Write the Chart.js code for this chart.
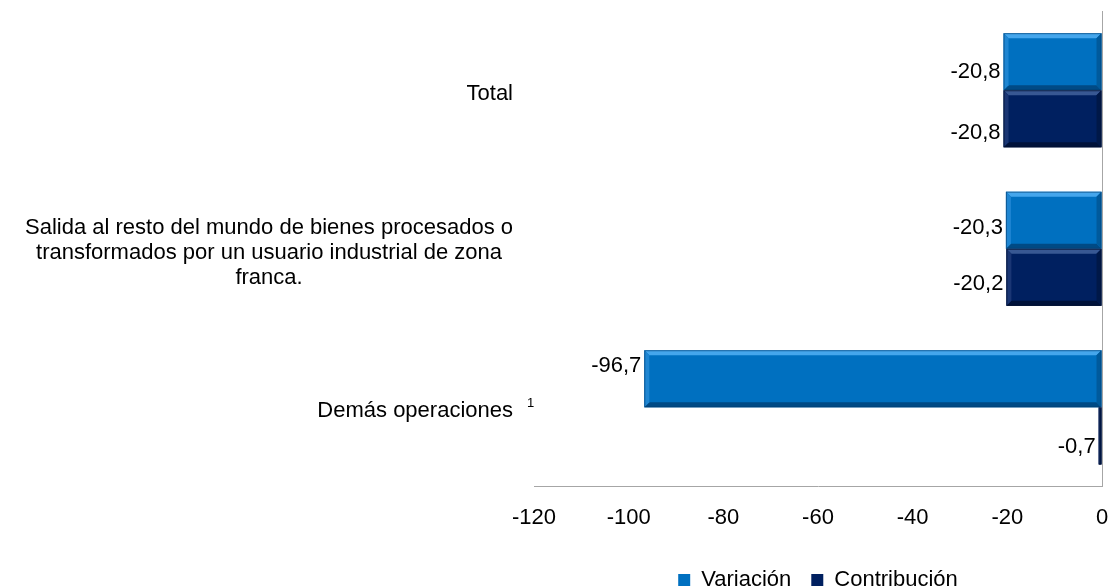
<!DOCTYPE html>
<html lang="es">
<head>
<meta charset="utf-8">
<title>Variación y contribución</title>
<script src="https://cdn.jsdelivr.net/npm/chart.js@4.4.1/dist/chart.umd.min.js"></script>
<style>
  html, body { margin: 0; padding: 0; background: #fff; overflow: hidden; }
  #wrap { width: 1112px; height: 586px; position: relative; }
</style>
</head>
<body>
<div id="wrap"><canvas id="grafico"></canvas></div>
<script>
// Categorías (de arriba hacia abajo), cada una partida en líneas
const categorias = [
    ['Total'],
    ['Salida al resto del mundo de bienes procesados o', 'transformados por un usuario industrial de zona', 'franca.'],
    ['Demás operaciones']
];
const notas = ['', '', '1'];

// Series (%)
const variacion = [-20.8, -20.3, -96.7];
const contribucion = [-20.8, -20.2, -0.7];

// Eje X
const ejeMin = -120;
const ejeMax = 0;
const ejePaso = 20;

const FUENTE = "'Liberation Sans', Arial, sans-serif";
const TAM = 22;

// Ajuste vertical de las etiquetas de datos (como quedaron en el original)
const ajusteEtiquetas = [[10, 14], [8, 7], [-13, 11]];

function formatoNumero(v) {
    return v.toFixed(1).replace('.', ',');
}

// Etiquetas de categoría: bloque alineado a la derecha, líneas centradas
const etiquetasCategoria = {
    id: 'etiquetasCategoria',
    afterDraw(chart) {
        const ctx = chart.ctx;
        const yScale = chart.scales.y;
        const derecha = chart.chartArea.left - 21;
        const alto = 25;
        ctx.save();
        ctx.fillStyle = '#000';
        ctx.textBaseline = 'middle';
        ctx.font = TAM + 'px ' + FUENTE;
        categorias.forEach((lineas, i) => {
            const yc = yScale.getPixelForValue(i) + 4;
            const ancho = Math.max(...lineas.map(l => ctx.measureText(l).width));
            const xc = derecha - ancho / 2;
            ctx.textAlign = 'center';
            lineas.forEach((l, j) => {
                ctx.fillText(l, xc, yc + (j - (lineas.length - 1) / 2) * alto);
            });
            if (notas[i]) {
                ctx.font = '13px ' + FUENTE;
                ctx.textAlign = 'left';
                ctx.fillText(notas[i], derecha + 14, yc - 8);
                ctx.font = TAM + 'px ' + FUENTE;
            }
        });
        ctx.restore();
    }
};

// Biselado de las barras y etiquetas de valores
const biselYValores = {
    id: 'biselYValores',
    afterDatasetsDraw(chart) {
        const ctx = chart.ctx;
        ctx.save();
        chart.data.datasets.forEach((ds, d) => {
            const meta = chart.getDatasetMeta(d);
            meta.data.forEach((el, i) => {
                const p = el.getProps(['x', 'y', 'base', 'height'], true);
                const x0 = Math.min(p.x, p.base), x1 = Math.max(p.x, p.base);
                const y0 = p.y - p.height / 2, y1 = p.y + p.height / 2;
                const b = Math.min(5, (x1 - x0) / 2);
                const c = ds.bisel;
                const trap = (pts, color) => {
                    ctx.beginPath();
                    ctx.moveTo(pts[0][0], pts[0][1]);
                    pts.slice(1).forEach(q => ctx.lineTo(q[0], q[1]));
                    ctx.closePath();
                    ctx.fillStyle = color;
                    ctx.fill();
                };
                if (b > 0.5) {
                    trap([[x0, y0], [x1, y0], [x1 - b, y0 + b], [x0 + b, y0 + b]], c.arriba);
                    trap([[x0, y1], [x1, y1], [x1 - b, y1 - b], [x0 + b, y1 - b]], c.abajo);
                    trap([[x0, y0], [x0 + b, y0 + b], [x0 + b, y1 - b], [x0, y1]], c.izq);
                    trap([[x1, y0], [x1 - b, y0 + b], [x1 - b, y1 - b], [x1, y1]], c.der);
                }
                ctx.strokeStyle = c.borde;
                ctx.lineWidth = 1;
                ctx.strokeRect(x0 + 0.5, y0 + 0.5, x1 - x0 - 1, y1 - y0 - 1);

                // valor
                ctx.fillStyle = '#000';
                ctx.font = TAM + 'px ' + FUENTE;
                ctx.textAlign = 'right';
                ctx.textBaseline = 'middle';
                ctx.fillText(formatoNumero(ds.data[i]), x0 - 3, p.y + ajusteEtiquetas[i][d]);
            });
        });
        ctx.restore();
    }
};

const ctx = document.getElementById('grafico').getContext('2d');
new Chart(ctx, {
    type: 'bar',
    data: {
        labels: categorias,
        datasets: [{
            label: 'Variación',
            data: variacion,
            backgroundColor: '#0070c0',
            bisel: { arriba: '#45a6ec', abajo: '#004a85', izq: '#1f86d2', der: '#005a9c', borde: 'rgba(0,60,110,0.6)' },
            barPercentage: 1,
            categoryPercentage: 0.72
        }, {
            label: 'Contribución',
            data: contribucion,
            backgroundColor: '#002060',
            bisel: { arriba: '#385893', abajo: '#00123a', izq: '#1a3674', der: '#001848', borde: 'rgba(0,15,45,0.7)' },
            barPercentage: 1,
            categoryPercentage: 0.72
        }]
    },
    options: {
        indexAxis: 'y',
        responsive: true,
        maintainAspectRatio: false,
        animation: false,
        layout: {
            autoPadding: false,
            padding: { left: 534, right: 10, top: 11, bottom: 0 }
        },
        scales: {
            x: {
                min: ejeMin,
                max: ejeMax,
                ticks: {
                    stepSize: ejePaso,
                    color: '#000',
                    padding: 18,
                    font: { family: FUENTE, size: TAM }
                },
                // solo la línea vertical en cero (eje de categorías)
                grid: {
                    display: true,
                    drawTicks: false,
                    color: c => (c.tick && c.tick.value === 0 ? '#a6a6a6' : 'rgba(0,0,0,0)')
                },
                border: { display: true, color: '#a6a6a6', width: 1 },
                afterFit(scale) {
                    scale.paddingLeft = 0;
                    scale.paddingRight = 0;
                }
            },
            y: {
                display: false
            }
        },
        plugins: {
            legend: {
                position: 'bottom',
                maxHeight: 37,
                labels: {
                    boxWidth: 12,
                    boxHeight: 12,
                    padding: 20,
                    color: '#000',
                    font: { family: FUENTE, size: TAM }
                }
            },
            tooltip: { enabled: false }
        }
    },
    plugins: [etiquetasCategoria, biselYValores]
});
</script>
</body>
</html>
